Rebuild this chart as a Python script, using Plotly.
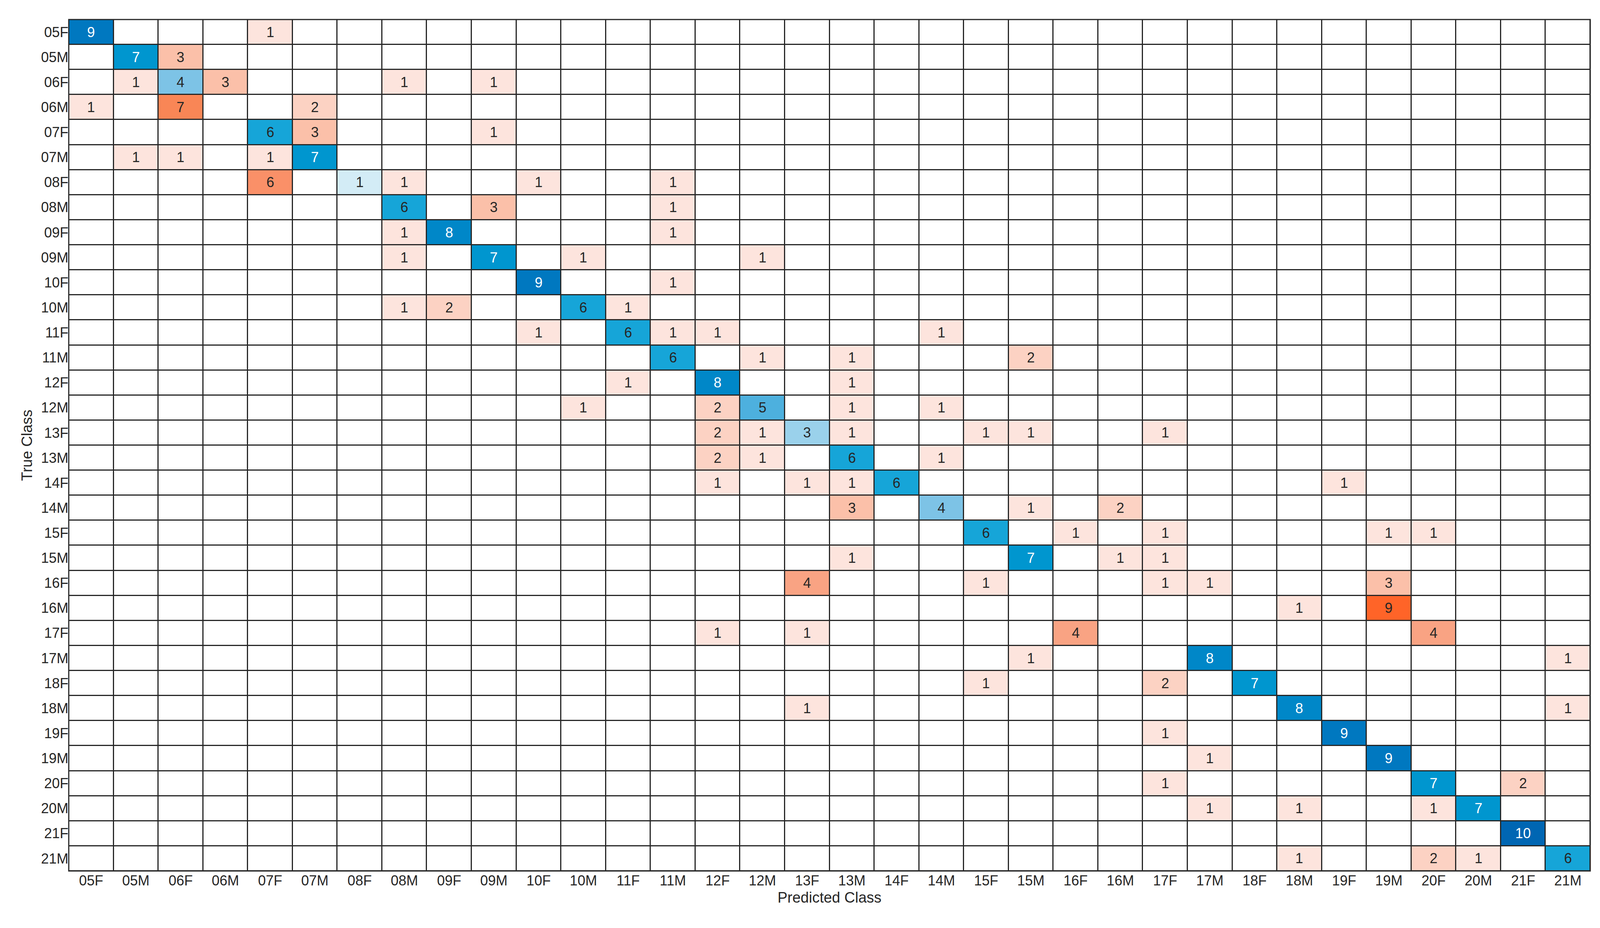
import plotly.graph_objects as go

classes = ['05F', '05M', '06F', '06M', '07F', '07M', '08F', '08M', '09F', '09M',
           '10F', '10M', '11F', '11M', '12F', '12M', '13F', '13M', '14F', '14M',
           '15F', '15M', '16F', '16M', '17F', '17M', '18F', '18M', '19F', '19M',
           '20F', '20M', '21F', '21M']

# non-zero cells of the confusion matrix: (true class, predicted class, count)
true_cls = ['05F', '05F', '05M', '05M', '06F', '06F', '06F', '06F', '06F',
            '06M', '06M', '06M', '07F', '07F', '07F', '07M', '07M', '07M', '07M',
            '08F', '08F', '08F', '08F', '08F', '08M', '08M', '08M', '09F', '09F', '09F',
            '09M', '09M', '09M', '09M', '10F', '10F', '10M', '10M', '10M', '10M',
            '11F', '11F', '11F', '11F', '11F', '11M', '11M', '11M', '11M',
            '12F', '12F', '12F', '12M', '12M', '12M', '12M', '12M',
            '13F', '13F', '13F', '13F', '13F', '13F', '13F', '13M', '13M', '13M', '13M',
            '14F', '14F', '14F', '14F', '14F', '14M', '14M', '14M', '14M',
            '15F', '15F', '15F', '15F', '15F', '15M', '15M', '15M', '15M',
            '16F', '16F', '16F', '16F', '16F', '16M', '16M',
            '17F', '17F', '17F', '17F', '17M', '17M', '17M', '18F', '18F', '18F',
            '18M', '18M', '18M', '19F', '19F', '19M', '19M', '20F', '20F', '20F',
            '20M', '20M', '20M', '20M', '21F', '21M', '21M', '21M', '21M']
pred_cls = ['05F', '07F', '05M', '06F', '05M', '06F', '06M', '08M', '09M',
            '05F', '06F', '07M', '07F', '07M', '09M', '05M', '06F', '07F', '07M',
            '07F', '08F', '08M', '10F', '11M', '08M', '09M', '11M', '08M', '09F', '11M',
            '08M', '09M', '10M', '12M', '10F', '11M', '08M', '09F', '10M', '11F',
            '10F', '11F', '11M', '12F', '14M', '11M', '12M', '13M', '15M',
            '11F', '12F', '13M', '10M', '12F', '12M', '13M', '14M',
            '12F', '12M', '13F', '13M', '15F', '15M', '17F', '12F', '12M', '13M', '14M',
            '12F', '13F', '13M', '14F', '19F', '13M', '14M', '15M', '16M',
            '15F', '16F', '17F', '19M', '20F', '13M', '15M', '16M', '17F',
            '13F', '15F', '17F', '17M', '19M', '18M', '19M',
            '12F', '13F', '16F', '20F', '15M', '17M', '21M', '15F', '17F', '18F',
            '13F', '18M', '21M', '17F', '19F', '17M', '19M', '17F', '20F', '21F',
            '17M', '18M', '20F', '20M', '21F', '18M', '20F', '20M', '21M']
counts = [9, 1, 7, 3, 1, 4, 3, 1, 1,
          1, 7, 2, 6, 3, 1, 1, 1, 1, 7,
          6, 1, 1, 1, 1, 6, 3, 1, 1, 8, 1,
          1, 7, 1, 1, 9, 1, 1, 2, 6, 1,
          1, 6, 1, 1, 1, 6, 1, 1, 2,
          1, 8, 1, 1, 2, 5, 1, 1,
          2, 1, 3, 1, 1, 1, 1, 2, 1, 6, 1,
          1, 1, 1, 6, 1, 3, 4, 1, 2,
          6, 1, 1, 1, 1, 1, 7, 1, 1,
          4, 1, 1, 1, 3, 1, 9,
          1, 1, 4, 4, 1, 8, 1, 1, 2, 7,
          1, 8, 1, 1, 9, 1, 9, 1, 7, 2,
          1, 1, 1, 7, 10, 1, 2, 1, 6]

n = len(classes)
idx = {c: i for i, c in enumerate(classes)}
diag = [[None] * n for _ in range(n)]
off = [[None] * n for _ in range(n)]
for t, p, v in zip(true_cls, pred_cls, counts):
    r, c = idx[t], idx[p]
    if r == c:
        diag[r][c] = v
    else:
        off[r][c] = v

blank = [[0] * n for _ in range(n)]
gap = 3

fig = go.Figure()
fig.add_trace(go.Heatmap(z=blank, x=classes, y=classes, colorscale=[[0, 'white'], [1, 'white']],
                         showscale=False, xgap=gap, ygap=gap, hoverinfo='skip'))
fig.add_trace(go.Heatmap(z=off, x=classes, y=classes, zmin=0, zmax=9, showscale=False,
                         xgap=gap, ygap=gap,
                         colorscale=[[0, '#ffffff'], [0.111, '#fde4dd'], [0.222, '#fcd2c3'],
                                     [0.333, '#fbc0a9'], [0.444, '#f9a383'], [0.667, '#fa9068'],
                                     [0.778, '#f98656'], [1, '#ff6428']]))
fig.add_trace(go.Heatmap(z=diag, x=classes, y=classes, zmin=0, zmax=10, showscale=False,
                         xgap=gap, ygap=gap,
                         colorscale=[[0, '#ffffff'], [0.1, '#d3ecf6'], [0.4, '#7dc3e6'],
                                     [0.5, '#4db0de'], [0.6, '#16a5d8'], [0.7, '#0096cf'],
                                     [0.9, '#0078c0'], [1, '#0066b3']]))

for t, p, v in zip(true_cls, pred_cls, counts):
    white = (t == p and v >= 7)
    fig.add_annotation(x=p, y=t, text=str(v), showarrow=False,
                       font=dict(family='Liberation Sans', size=36,
                                 color='white' if white else '#262626'))

fig.add_shape(type='rect', xref='paper', yref='paper', x0=0, y0=0, x1=1, y1=1,
              line=dict(color='#262626', width=3))

fig.update_layout(
    autosize=True,
    margin=dict(l=168, r=17, t=42, b=138),
    plot_bgcolor='#262626', paper_bgcolor='white',
    font=dict(family='Liberation Sans', size=36, color='#262626'),
    xaxis=dict(title=dict(text='Predicted Class', font=dict(size=38), standoff=10),
               showgrid=False, zeroline=False, ticks='', tickfont=dict(size=36)),
    yaxis=dict(title=dict(text='True Class', font=dict(size=38), standoff=10),
               showgrid=False, zeroline=False, ticks='', autorange='reversed',
               tickfont=dict(size=36)),
)

fig.write_html('out.html')
